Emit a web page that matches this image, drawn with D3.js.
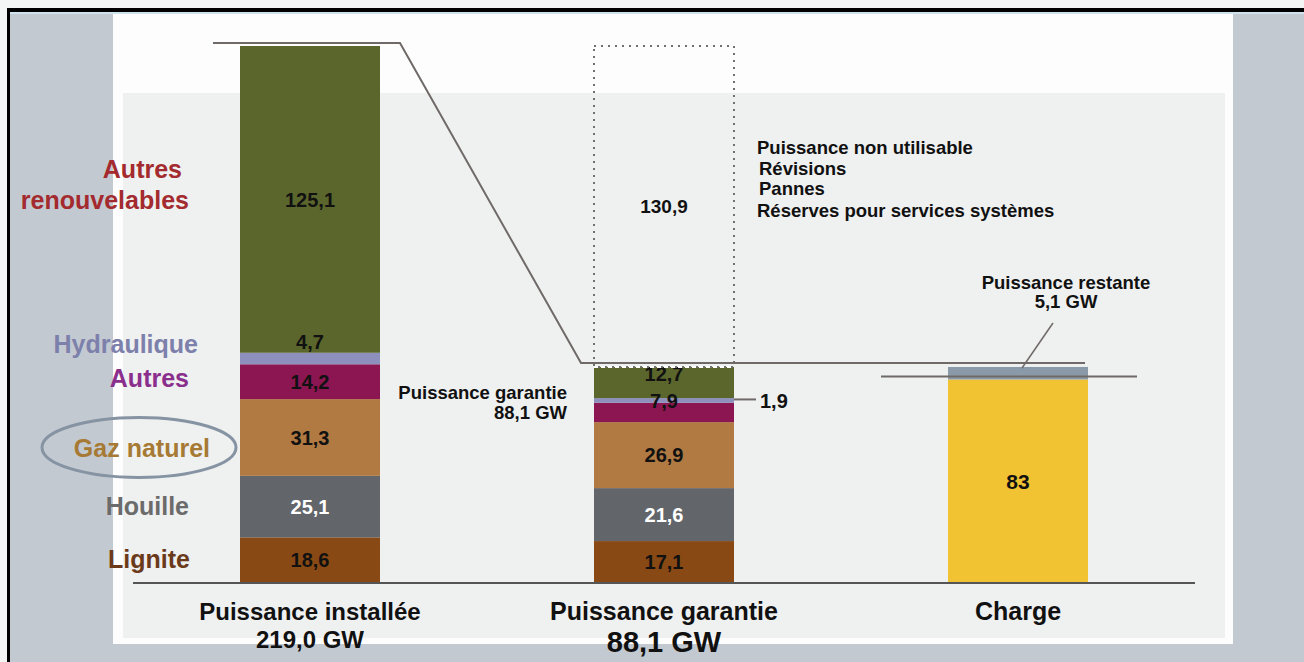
<!DOCTYPE html>
<meta charset="utf-8">
<head>
<title>Puissance installée / garantie / charge</title>
<style>
body { margin: 0; background: #f4f5f5; }
svg { display: block; }
text { font-family: "Liberation Sans", Arial, sans-serif; font-weight: bold; }
.num { font-size: 20px; fill: #111; text-anchor: middle; }
.note { font-size: 18.5px; fill: #111; }
.cat { font-size: 25px; text-anchor: end; }
.col { font-size: 24px; fill: #111; text-anchor: middle; }
.conn { fill: none; stroke: #6f6a68; stroke-width: 2px; }
</style>
</head>
<body>
<script src="https://cdn.jsdelivr.net/npm/d3@7"></script>
<div id="chart"></div>
<script>

// --- data ---
var sources = ["Lignite", "Houille", "Gaz naturel", "Autres", "Hydraulique", "Autres renouvelables"];
var installed = [18.6, 25.1, 31.3, 14.2, 4.7, 125.1];
var guaranteed = [17.1, 21.6, 26.9, 7.9, 1.9, 12.7];
var unusable = 130.9;
var load = 83;
var remaining = 5.1;
var columns = ["Puissance installée", "Puissance garantie", "Charge"];
var columnTotals = ["219,0 GW", "88,1 GW", ""];
var unusableReasons = ["Puissance non utilisable", "Révisions", "Pannes", "Réserves pour services systèmes"];

// --- styles ---
var barColors = ["#894914", "#62666a", "#b07a42", "#8c1652", "#8d90bd", "#5b662c"];
var labelColors = ["#6b3a1a", "#6b6b6b", "#a67a35", "#8b2f8d", "#7c80ab", "#a32a2e"];
var numColors = ["#111", "#fff", "#111", "#111", "#111", "#111"];

var width = 1304, height = 662;
var fr = d3.formatLocale({decimal: ",", thousands: " ", grouping: [3], currency: ["", ""]});
var f1 = fr.format(".1f"), f0 = fr.format("d");

var svg = d3.select("#chart").append("svg")
    .attr("width", width)
    .attr("height", height);

// frame / backgrounds
svg.append("rect").attr("x", 7).attr("y", 8).attr("width", width - 7).attr("height", height - 8).attr("fill", "#000");
svg.append("rect").attr("x", 10).attr("y", 12).attr("width", width - 10).attr("height", height - 12).attr("fill", "#c3c9d1");
svg.append("rect").attr("x", 10).attr("y", 12).attr("width", width - 10).attr("height", 2).attr("fill", "#cfe3ee");
svg.append("rect").attr("x", 113).attr("y", 14).attr("width", 1120).attr("height", 630).attr("fill", "#fdfdfd");
svg.append("rect").attr("x", 123).attr("y", 93).attr("width", 1102).attr("height", 545).attr("fill", "#eff0f0");

var total = d3.sum(installed);
var y = d3.scaleLinear().domain([0, total]).range([583, 46]);
var x = d3.scalePoint().domain(columns).range([310, 1018]);
var bw = 140;

function stack(vals) {
  var acc = 0;
  return vals.map(function (v, i) { var s = {i: i, v: v, y0: acc, y1: acc + v}; acc += v; return s; });
}

// nudges for value labels that sit off-centre in the original
var shift1 = [0, 0, 0, 0, -17, 0];
var shift2 = [0, 0, 0, -12, null, -9];

function drawBar(col, vals, shift) {
  var g = svg.append("g");
  var cx = x(col);
  var st = stack(vals);
  g.selectAll("rect").data(st).enter().append("rect")
    .attr("x", cx - bw / 2).attr("width", bw)
    .attr("y", function (d) { return y(d.y1); })
    .attr("height", function (d) { return y(d.y0) - y(d.y1); })
    .attr("fill", function (d) { return barColors[d.i]; });
  g.selectAll("text").data(st.filter(function (d) { return shift[d.i] !== null; })).enter().append("text")
    .attr("class", "num")
    .attr("x", cx)
    .attr("y", function (d) { return (y(d.y0) + y(d.y1)) / 2 + shift[d.i]; })
    .attr("dy", "0.36em")
    .style("fill", function (d) { return numColors[d.i]; })
    .text(function (d) { return f1(d.v); });
  return st;
}

var st1 = drawBar(columns[0], installed, shift1);
var st2 = drawBar(columns[1], guaranteed, shift2);
var gTotal = d3.sum(guaranteed);

// unusable (dotted) box
var c2 = x(columns[1]);
svg.append("rect")
  .attr("x", c2 - bw / 2).attr("width", bw)
  .attr("y", y(gTotal + unusable)).attr("height", y(gTotal) - y(gTotal + unusable))
  .attr("fill", "none").attr("stroke", "#707070").attr("stroke-width", 2)
  .attr("stroke-dasharray", "2,5");
svg.append("line")
  .attr("x1", c2 - bw / 2).attr("x2", c2 + bw / 2)
  .attr("y1", y(gTotal)).attr("y2", y(gTotal))
  .attr("stroke", "#fff").attr("stroke-width", 2).attr("stroke-dasharray", "4,3");
svg.append("text").attr("class", "num").attr("x", c2)
  .attr("y", (y(gTotal) + y(gTotal + unusable)) / 2).attr("dy", "0.36em")
  .style("font-size", "19px").text(f1(unusable));

svg.append("g").selectAll("text").data(unusableReasons).enter().append("text")
  .attr("class", "note")
  .attr("x", function (d, i) { return i === 0 || i === 3 ? 757 : 759; })
  .attr("y", function (d, i) { return [154, 175, 195, 217][i]; })
  .text(function (d) { return d; });

// connectors
var c1 = x(columns[0]), c3 = x(columns[2]);
svg.append("path").attr("class", "conn")
  .attr("d", d3.line()([
    [c1 - bw / 2 - 27, y(total) - 3],
    [c1 + bw / 2 + 20, y(total) - 3],
    [c2 - bw / 2 - 13, y(gTotal) - 4],
    [c3 + bw / 2 - 3, y(gTotal) - 4]
  ]));

// hydro leader in bar 2
var hy = (y(st2[4].y0) + y(st2[4].y1)) / 2 - 1;
svg.append("line").attr("class", "conn")
  .attr("x1", c2 + bw / 2).attr("x2", c2 + bw / 2 + 22).attr("y1", hy).attr("y2", hy);
svg.append("text").attr("class", "num").attr("x", c2 + bw / 2 + 26).attr("y", hy + 1).attr("dy", "0.36em")
  .style("text-anchor", "start").text(f1(guaranteed[4]));

svg.append("text").attr("class", "note").attr("x", 567).attr("y", 399).style("text-anchor", "end").text("Puissance garantie");
svg.append("text").attr("class", "note").attr("x", 567).attr("y", 419).style("text-anchor", "end").text("88,1 GW");

// load bar
svg.append("rect").attr("x", c3 - bw / 2).attr("width", bw)
  .attr("y", y(load)).attr("height", y(0) - y(load)).attr("fill", "#f1c232");
svg.append("rect").attr("x", c3 - bw / 2).attr("width", bw)
  .attr("y", y(load + remaining)).attr("height", y(load) - y(load + remaining)).attr("fill", "#8a9aa9");
svg.append("text").attr("class", "num").attr("x", c3).attr("y", (y(0) + y(load)) / 2).attr("dy", "0.36em")
  .style("font-size", "21px").text(f0(load));
svg.append("line").attr("class", "conn")
  .attr("x1", c3 - bw / 2 - 67).attr("x2", c3 + bw / 2 + 49)
  .attr("y1", y(load) - 3).attr("y2", y(load) - 3);
svg.append("line").attr("class", "conn").style("stroke-width", "1.5px")
  .attr("x1", c3 + 4).attr("y1", y(load + remaining) + 1)
  .attr("x2", c3 + 35).attr("y2", y(load + remaining) - 44);
svg.append("text").attr("class", "note").attr("x", c3 + 48).attr("y", 289).style("text-anchor", "middle").text("Puissance restante");
svg.append("text").attr("class", "note").attr("x", c3 + 48).attr("y", 308).style("text-anchor", "middle").text(f1(remaining) + " GW");

// baseline
svg.append("line").attr("x1", 133).attr("x2", 1195).attr("y1", y(0)).attr("y2", y(0))
  .attr("stroke", "#555").attr("stroke-width", 2);

// category labels (left)
var catX = [190, 189, 210, 189, 198, 189];
var catShift = [8, 8, 20, 5, -6, 0];
var catG = svg.append("g");
st1.forEach(function (d) {
  var cy = (y(d.y0) + y(d.y1)) / 2 + catShift[d.i];
  var t = catG.append("text").attr("class", "cat").attr("fill", labelColors[d.i]);
  if (d.i === 5) {
    t.append("tspan").attr("x", 182).attr("y", 178).text("Autres");
    t.append("tspan").attr("x", catX[5]).attr("y", 209).text("renouvelables");
  } else {
    t.attr("x", catX[d.i]).attr("y", cy).text(sources[d.i]);
  }
});
// circled gas label
var gasMid = (y(st1[2].y0) + y(st1[2].y1)) / 2;
svg.append("ellipse").attr("cx", 139).attr("cy", gasMid + 10).attr("rx", 97).attr("ry", 30)
  .attr("fill", "none").attr("stroke", "#8593a3").attr("stroke-width", 3);

// column titles
svg.append("g").selectAll("text").data(columns).enter().append("text")
  .attr("class", "col").attr("x", function (d) { return x(d); }).attr("y", 620)
  .style("font-size", function (d, i) { return i === 0 ? "24px" : "25px"; })
  .text(function (d) { return d; });
svg.append("g").selectAll("text").data(columnTotals).enter().append("text")
  .attr("class", "col").attr("x", function (d, i) { return x(columns[i]); })
  .attr("y", function (d, i) { return i === 1 ? 652 : 648; })
  .style("font-size", function (d, i) { return i === 1 ? "29px" : "24px"; })
  .text(function (d) { return d; });

</script>
</body>
